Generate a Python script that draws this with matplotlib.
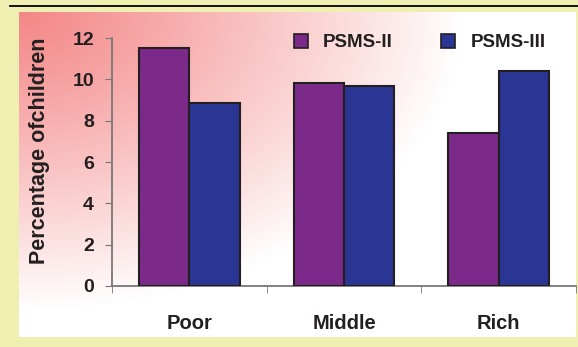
import numpy as np
import matplotlib.pyplot as plt
from matplotlib.lines import Line2D
from matplotlib.patches import Patch

groups = ['Poor', 'Middle', 'Rich']
series = ['PSMS-II', 'PSMS-III']
psms2 = [11.5, 9.8, 7.4]
psms3 = [8.85, 9.7, 10.4]
yticks = [0, 2, 4, 6, 8, 10, 12]

purple = '#7B2A8A'
blue = '#2B3594'
edge = '#231F20'
page = '#EFEFB2'

plt.rcParams['font.family'] = ['Liberation Sans', 'DejaVu Sans']
plt.rcParams['font.weight'] = 'bold'

W, H = 578, 347
fig = plt.figure(figsize=(W / 100, H / 100), dpi=100)
fig.patch.set_facecolor(page)


def box(x0, y0, x1, y1):
    # pixel box (top-left origin) -> figure fraction rect
    return [x0 / W, 1 - y1 / H, (x1 - x0) / W, (y1 - y0) / H]


# caption line, only the bottom of it is on the page
fig.text(12 / W, 1 + 6 / H, 'Children (aged) suffering by age group and wealth status',
         fontsize=14, family='Liberation Serif', weight='bold', va='baseline', color='black')
fig.add_artist(Line2D([10 / W, 1], [1 - 6 / H, 1 - 6 / H], color='black', lw=1.3))

# chart area with a pink-to-white gradient from the top-left corner
bg = fig.add_axes(box(19, 12, 576, 337))
u = np.linspace(0, 1, 300)[None, :]
v = np.linspace(0, 1, 200)[:, None]
t = np.clip(np.sqrt((u / 0.8) ** 2 + (v / 0.92) ** 2), 0, 1) ** 1.1
c0 = np.array([244, 136, 136]) / 255
c1 = np.array([255, 255, 255]) / 255
img = c0 + (c1 - c0) * t[..., None]
bg.imshow(img, aspect='auto', extent=[0, 1, 1, 0], interpolation='bilinear')
bg.set_axis_off()

ax = fig.add_axes(box(112, 38, 576, 286))
ax.patch.set_alpha(0)
x = np.arange(len(groups))
w = 0.325
ax.bar(x - w / 2, psms2, w, color=purple, edgecolor=edge, lw=1.5, label=series[0], zorder=3)
ax.bar(x + w / 2, psms3, w, color=blue, edgecolor=edge, lw=1.5, label=series[1], zorder=3)

ax.set_xlim(-0.5, 2.5)
ax.set_ylim(0, 12)
ax.set_yticks(yticks)
ax.set_xticks(x)
ax.set_xticklabels(groups, fontsize=14.5, color='#231F20')
ax.set_xticks([-0.5, 0.5, 1.5, 2.5], minor=True)
ax.tick_params(axis='x', which='major', length=0, pad=20)
ax.tick_params(axis='x', which='minor', length=5, color='#777777', direction='out')
ax.tick_params(axis='y', length=5, color='#777777', labelsize=14, labelcolor='#231F20', pad=8)
for s in ['top', 'right']:
    ax.spines[s].set_visible(False)
ax.spines['left'].set_color('#777777')
ax.spines['bottom'].set_color('#777777')
ax.spines['left'].set_linewidth(1.3)
ax.spines['bottom'].set_linewidth(1.3)

# y label sits a little above the axis centre
fig.text(39 / W, 1 - 151 / H, 'Percentage ofchildren', rotation=90, fontsize=15.5,
         fontweight='bold', color='#231F20', ha='center', va='center')

handles = [Patch(facecolor=purple, edgecolor=edge, lw=1.2), Patch(facecolor=blue, edgecolor=edge, lw=1.2)]
leg = ax.legend(handles, series, ncol=2, frameon=False, loc='upper left',
                bbox_to_anchor=(0.355, 1.085), fontsize=13.5, handlelength=0.75, handleheight=0.75,
                handletextpad=0.8, columnspacing=2.6)
for txt in leg.get_texts():
    txt.set_color('#231F20')

fig.savefig('out.png', dpi=100, facecolor=page)
